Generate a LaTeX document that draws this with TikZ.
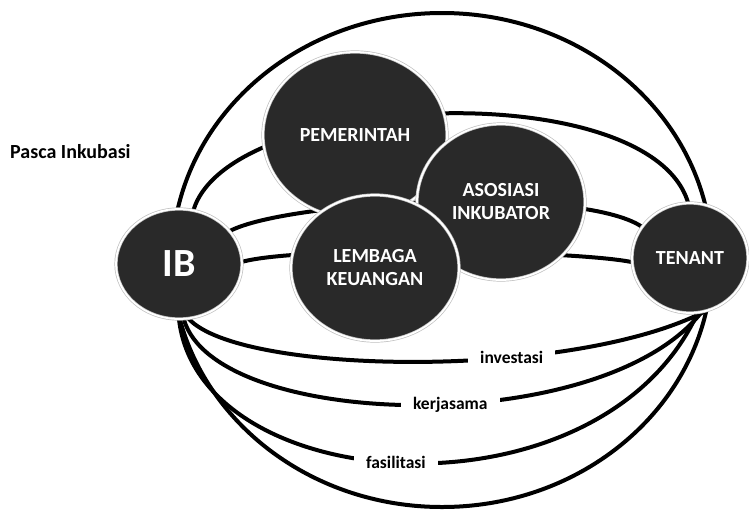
\documentclass[tikz,border=0pt]{standalone}
\usepackage{fontspec}
\setmainfont{Carlito}
\usetikzlibrary{shapes.geometric,backgrounds}

\begin{document}
\begin{tikzpicture}[x=1pt, y=1pt,
    party/.style={ellipse, fill=black!84, draw=gray!50, double=white, double distance=1.8pt,
        line width=0.7pt, inner sep=0pt, text=white, align=center,
        font=\fontsize{20}{23}\selectfont\bfseries},
    tie/.style={line width=4pt},
    tielabel/.style={fill=white, inner xsep=12pt, inner ysep=1pt,
        font=\fontsize{17.5}{20}\selectfont\bfseries}]
    \useasboundingbox (0,0) rectangle (749,-509);
    \node[ellipse, draw, line width=4pt, minimum width=540pt, minimum height=494pt] (rim) at (442,-260) {};
    \node[font=\fontsize{20}{24}\selectfont\bfseries, anchor=west, inner sep=0pt] (phase) at (10,-152) {Pasca Inkubasi};
    % the parties
    \node[party, minimum width=184pt, minimum height=166pt] (gov) at (355,-135) {PEMERINTAH};
    \node[party, minimum width=168pt, minimum height=156pt] (assoc) at (501,-202) {ASOSIASI\\INKUBATOR};
    \node[party, minimum width=168pt, minimum height=146pt] (bank) at (375,-268) {LEMBAGA\\KEUANGAN};
    \node[party, minimum width=126pt, minimum height=110pt, font=\fontsize{40}{44}\selectfont\bfseries] (ib) at (179,-264) {IB};
    \node[party, minimum width=116pt, minimum height=110pt] (tenant) at (690,-258) {TENANT};
    % ties between IB and tenant
    \begin{scope}[on background layer]
        \draw[tie] (ib.75) .. controls +(37,120) and +(-38,128) .. (tenant.92);
        \draw[tie] (ib.33) .. controls +(60,31) and +(-61,41) .. (tenant.147);
        \draw[tie] (ib.2) .. controls +(58,16) and +(-60,12) .. (tenant.184);
        \draw[tie] (ib.-80) .. controls (240,-375) and (570,-380) .. (tenant.-75)
            node[tielabel, pos=0.65] (invest) {investasi};
        \draw[tie] (ib.-85) .. controls (215,-430) and (600,-440) .. (tenant.-78)
            node[tielabel, pos=0.55] (coop) {kerjasama};
        \draw[tie] (ib.-90) .. controls (200,-500) and (600,-525) .. (tenant.-82)
            node[tielabel, pos=0.48] (facil) {fasilitasi};
    \end{scope}
\end{tikzpicture}
\end{document}
